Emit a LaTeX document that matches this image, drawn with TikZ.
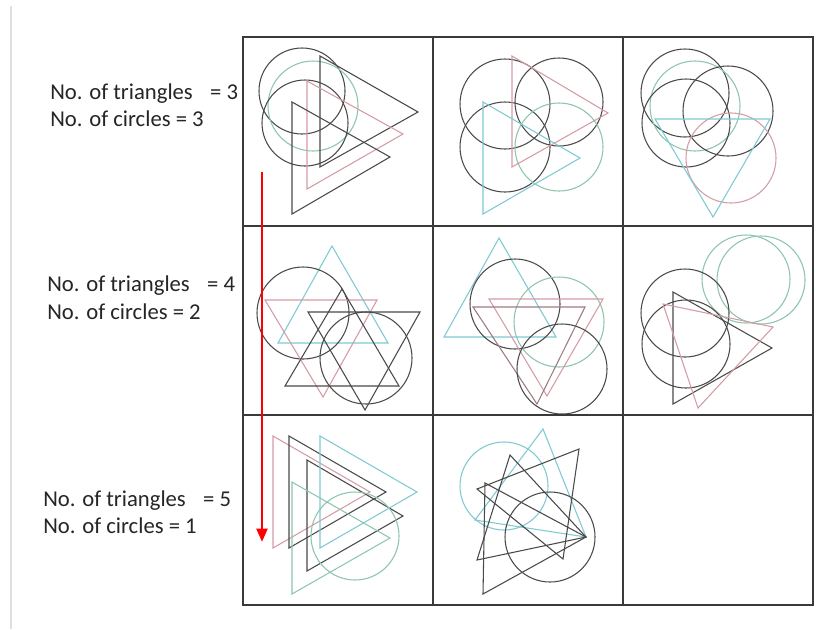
\documentclass[tikz,border=0pt]{standalone}
\usepackage{fontspec}
\setmainfont{Carlito}
\usetikzlibrary{arrows.meta}
\definecolor{pinkc}{HTML}{D59CA5}
\definecolor{cyanc}{HTML}{7FCAD3}
\definecolor{greenc}{HTML}{8DC5AE}
\definecolor{inkc}{HTML}{4A4A4A}
\definecolor{gridc}{HTML}{3A3A3A}
\begin{document}
\begin{tikzpicture}[x=0.75pt,y=-0.75pt,
  bk/.style={draw=inkc,line width=0.8pt},
  pk/.style={draw=pinkc,line width=0.8pt},
  dpk/.style={draw=pinkc!60!inkc,line width=0.8pt},
  cy/.style={draw=cyanc,line width=0.8pt},
  gn/.style={draw=greenc,line width=0.8pt},
  gridline/.style={draw=gridc,line width=1.5pt},
  lbl/.style={anchor=base west,inner sep=0pt,font=\fontsize{17pt}{20pt}\selectfont,text=black!85},
  redarrow/.style={draw=red,line width=2.2pt,-{Triangle[length=10pt,width=8pt]}}]
\useasboundingbox[fill=white] (0,0) rectangle (837,629);
\draw[gray!25,line width=0.8pt] (11,6) -- (11,629);

% ---------- cell 1 ----------
\draw[bk] (302,91) circle[radius=32.25pt];
\draw[gn] (313,106) circle[radius=33.75pt];
\draw[bk] (305,123) circle[radius=32.25pt];
\draw[bk] (320,56) -- (320,167) -- (418,112) -- cycle;
\draw[pk] (307,81) -- (307,189) -- (403,134) -- cycle;
\draw[bk] (292,102) -- (292,214) -- (390,157) -- cycle;

% ---------- cell 2 ----------
\draw[bk] (505,104) circle[radius=33.75pt];
\draw[bk] (559,102) circle[radius=33pt];
\draw[bk] (505,147) circle[radius=33.75pt];
\draw[gn] (559,147) circle[radius=33pt];
\draw[pk] (512,56) -- (512,167) -- (608,113) -- cycle;
\draw[cy] (483,102) -- (483,214) -- (580,158) -- cycle;

% ---------- cell 3 ----------
\draw[bk] (685,93) circle[radius=33pt];
\draw[gn] (695,106) circle[radius=33.75pt];
\draw[bk] (686,123) circle[radius=33pt];
\draw[bk] (728,111) circle[radius=33.75pt];
\draw[pk] (731,158) circle[radius=33.75pt];
\draw[cy] (655,119) -- (770,119) -- (713,217) -- cycle;

% ---------- cell 4 ----------
\draw[cy] (332,246) -- (278,343) -- (388,343) -- cycle;
\draw[bk] (303,313) circle[radius=34.5pt];
\draw[pk] (265,300) -- (377,300) -- (323,397) -- cycle;
\draw[bk] (308,312) -- (420,312) -- (365,410) -- cycle;
\draw[bk] (342,289) -- (285,386) -- (399,386) -- cycle;
\draw[bk] (366,358) circle[radius=34.5pt];

% ---------- cell 5 ----------
\draw[cy] (499,238) -- (444,337) -- (556,337) -- cycle;
\draw[bk] (515,304) circle[radius=33.75pt];
\draw[gn] (559,322) circle[radius=33.75pt];
\draw[pk] (489,299) -- (603,299) -- (547,396) -- cycle;
\draw[dpk] (473,307) -- (585,307) -- (537,404) -- cycle;
\draw[bk] (562,369) circle[radius=33.75pt];

% ---------- cell 6 ----------
\draw[gn] (746,279) circle[radius=33pt];
\draw[gn] (761,280) circle[radius=33pt];
\draw[bk] (685,313) circle[radius=33pt];
\draw[bk] (686,344) circle[radius=33pt];
\draw[bk] (673,292) -- (673,404) -- (772,348) -- cycle;
\draw[pk] (663,304) -- (773,327) -- (698,408) -- cycle;

% ---------- cell 7 ----------
\draw[pk] (273,436) -- (273,548) -- (370,492) -- cycle;
\draw[bk] (289,436) -- (289,548) -- (386,492) -- cycle;
\draw[bk] (307,460) -- (307,571) -- (403,516) -- cycle;
\draw[cy] (320,436) -- (320,548) -- (417,492) -- cycle;
\draw[gn] (292,482) -- (292,594) -- (390,538) -- cycle;
\draw[gn] (355,536) circle[radius=33pt];

% ---------- cell 8 ----------
\draw[cy] (504,486) circle[radius=33pt];
\draw[cy] (543,429) -- (475,520) -- (586,537) -- cycle;
\draw[bk] (579,449) -- (477,489) -- (563,559) -- cycle;
\draw[bk] (510,455) -- (477,560) -- (586,537) -- cycle;
\draw[bk] (485,483) -- (483,594) -- (586,537) -- cycle;
\draw[bk] (550,537) circle[radius=33.75pt];

% ---------- grid ----------
\draw[gridline] (243,37) rectangle (813,605);
\draw[gridline] (433,37) -- (433,605);
\draw[gridline] (623,37) -- (623,605);
\draw[gridline] (243,226) -- (813,226);
\draw[gridline] (243,415) -- (813,415);

% ---------- red arrow ----------
\coordinate (arrS) at (262,172);
\coordinate (arrE) at (262,542);
\draw[redarrow] (arrS) -- (arrE);

% ---------- labels ----------
\node[lbl] (t1) at (50,99) {No. of triangles\hspace{13pt}= 3};
\node[lbl] (c1) at (50,126) {No. of circles = 3};
\node[lbl] (t2) at (47,291) {No. of triangles\hspace{13pt}= 4};
\node[lbl] (c2) at (47,319) {No. of circles = 2};
\node[lbl] (t3) at (43,506) {No. of triangles\hspace{13pt}= 5};
\node[lbl] (c3) at (43,533) {No. of circles = 1};
\end{tikzpicture}
\end{document}
